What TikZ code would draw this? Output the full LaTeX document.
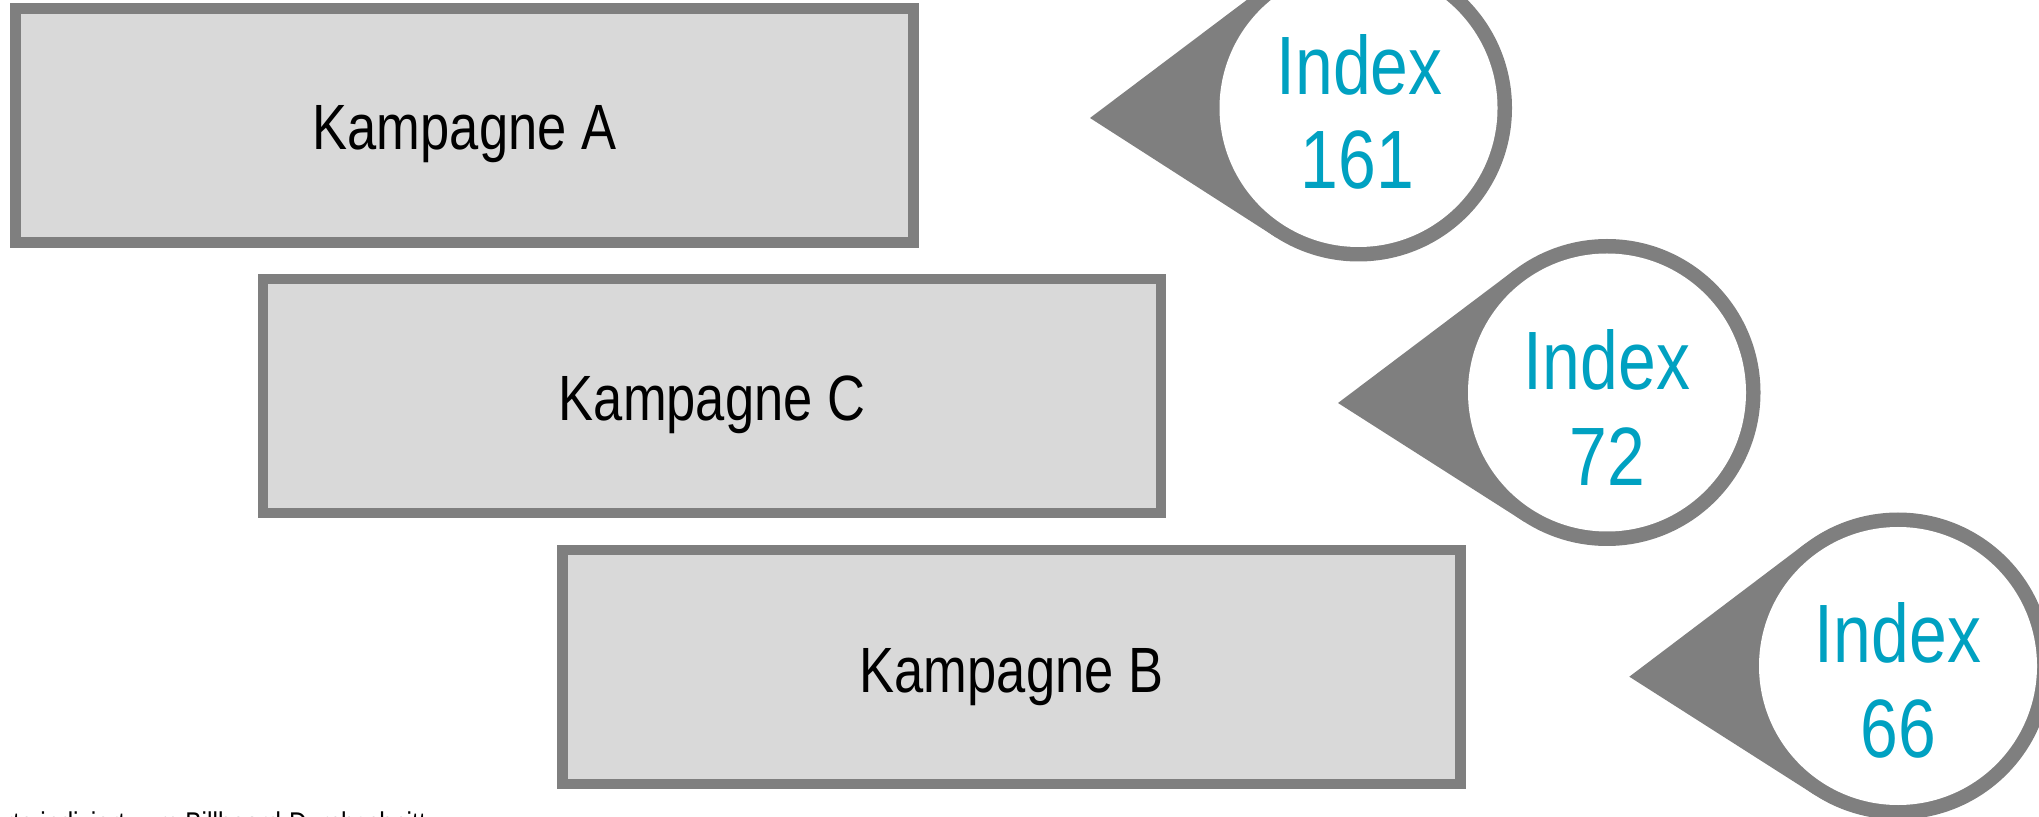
\documentclass[tikz,border=0pt]{standalone}
\usepackage{fontspec}
\setmainfont{Liberation Sans}
\newfontfamily\narrowsans[FakeStretch=0.82]{Liberation Sans}
\usetikzlibrary{calc}
\definecolor{framegray}{RGB}{127,127,127}
\definecolor{boxfill}{RGB}{217,217,217}
\definecolor{indexteal}{RGB}{0,161,193}
\begin{document}
\begin{tikzpicture}[x=0.5pt,y=-0.5pt,
  campaign/.style={rectangle, draw=framegray, fill=boxfill, line width=5.25pt,
    minimum width=449pt, minimum height=117pt, inner sep=0pt},
  campaignlabel/.style={anchor=base, inner sep=0pt,
    font=\narrowsans\fontsize{32}{38}\selectfont},
  indexlabel/.style={anchor=base, inner sep=0pt, text=indexteal,
    font=\narrowsans\fontsize{41.4}{48}\selectfont},
  calloutbody/.style={fill=framegray},
  calloutface/.style={circle, fill=white, minimum size=139pt, inner sep=0pt},
  footnotetext/.style={anchor=base west, inner sep=0pt,
    font=\narrowsans\fontsize{15}{18}\selectfont}]
\useasboundingbox (0,0) rectangle (2039,817);
\clip (0,0) rectangle (2039,817);

% campaign boxes
\node[campaign] (kA) at (464.6,125.5) {};
\node[campaign] (kC) at (712,396) {};
\node[campaign] (kB) at (1011.5,667) {};
\node[campaignlabel] (lA) at (464.5,150) {Kampagne A};
\node[campaignlabel] (lC) at (712,421) {Kampagne C};
\node[campaignlabel] (lB) at (1011.5,692) {Kampagne B};

% index callouts: gray ring with a wedge pointing left (edges tangent
% to the ring), white face
\coordinate (cA) at (1358.5,108);
\coordinate (tA) at (1090,118);
\coordinate (cC) at (1607,392.5);
\coordinate (tC) at (1338,403);
\coordinate (cB) at (1898,666);
\coordinate (tB) at (1629.3,676.7);
\foreach \c/\t in {cA/tA, cC/tC, cB/tB}{
  \fill[calloutbody] (\c) circle[radius=153.5];
  \fill[calloutbody] (\t) -- ($(\c)+(233:153.5)$) -- ($(\c)+(122.6:153.5)$) -- cycle;
}
\node[calloutface] (fA) at (cA) {};
\node[calloutface] (fC) at (cC) {};
\node[calloutface] (fB) at (cB) {};

\node[indexlabel] (iA) at ($(cA|-0,94.3)+(1,0)$) {Index};
\node[indexlabel] (vA) at ($(cA|-0,189)+(-1,0)$) {161};
\node[indexlabel] (iC) at (cC|-0,389.3) {Index};
\node[indexlabel] (vC) at (cC|-0,485.7) {72};
\node[indexlabel] (iB) at (cB|-0,662.7) {Index};
\node[indexlabel] (vB) at (cB|-0,757.7) {66};

% footnote, cut off by the lower edge
\node[footnotetext] (note) at (-32,833.5) {Werte indiziert zum Billboard-Durchschnitt};
\end{tikzpicture}
\end{document}
